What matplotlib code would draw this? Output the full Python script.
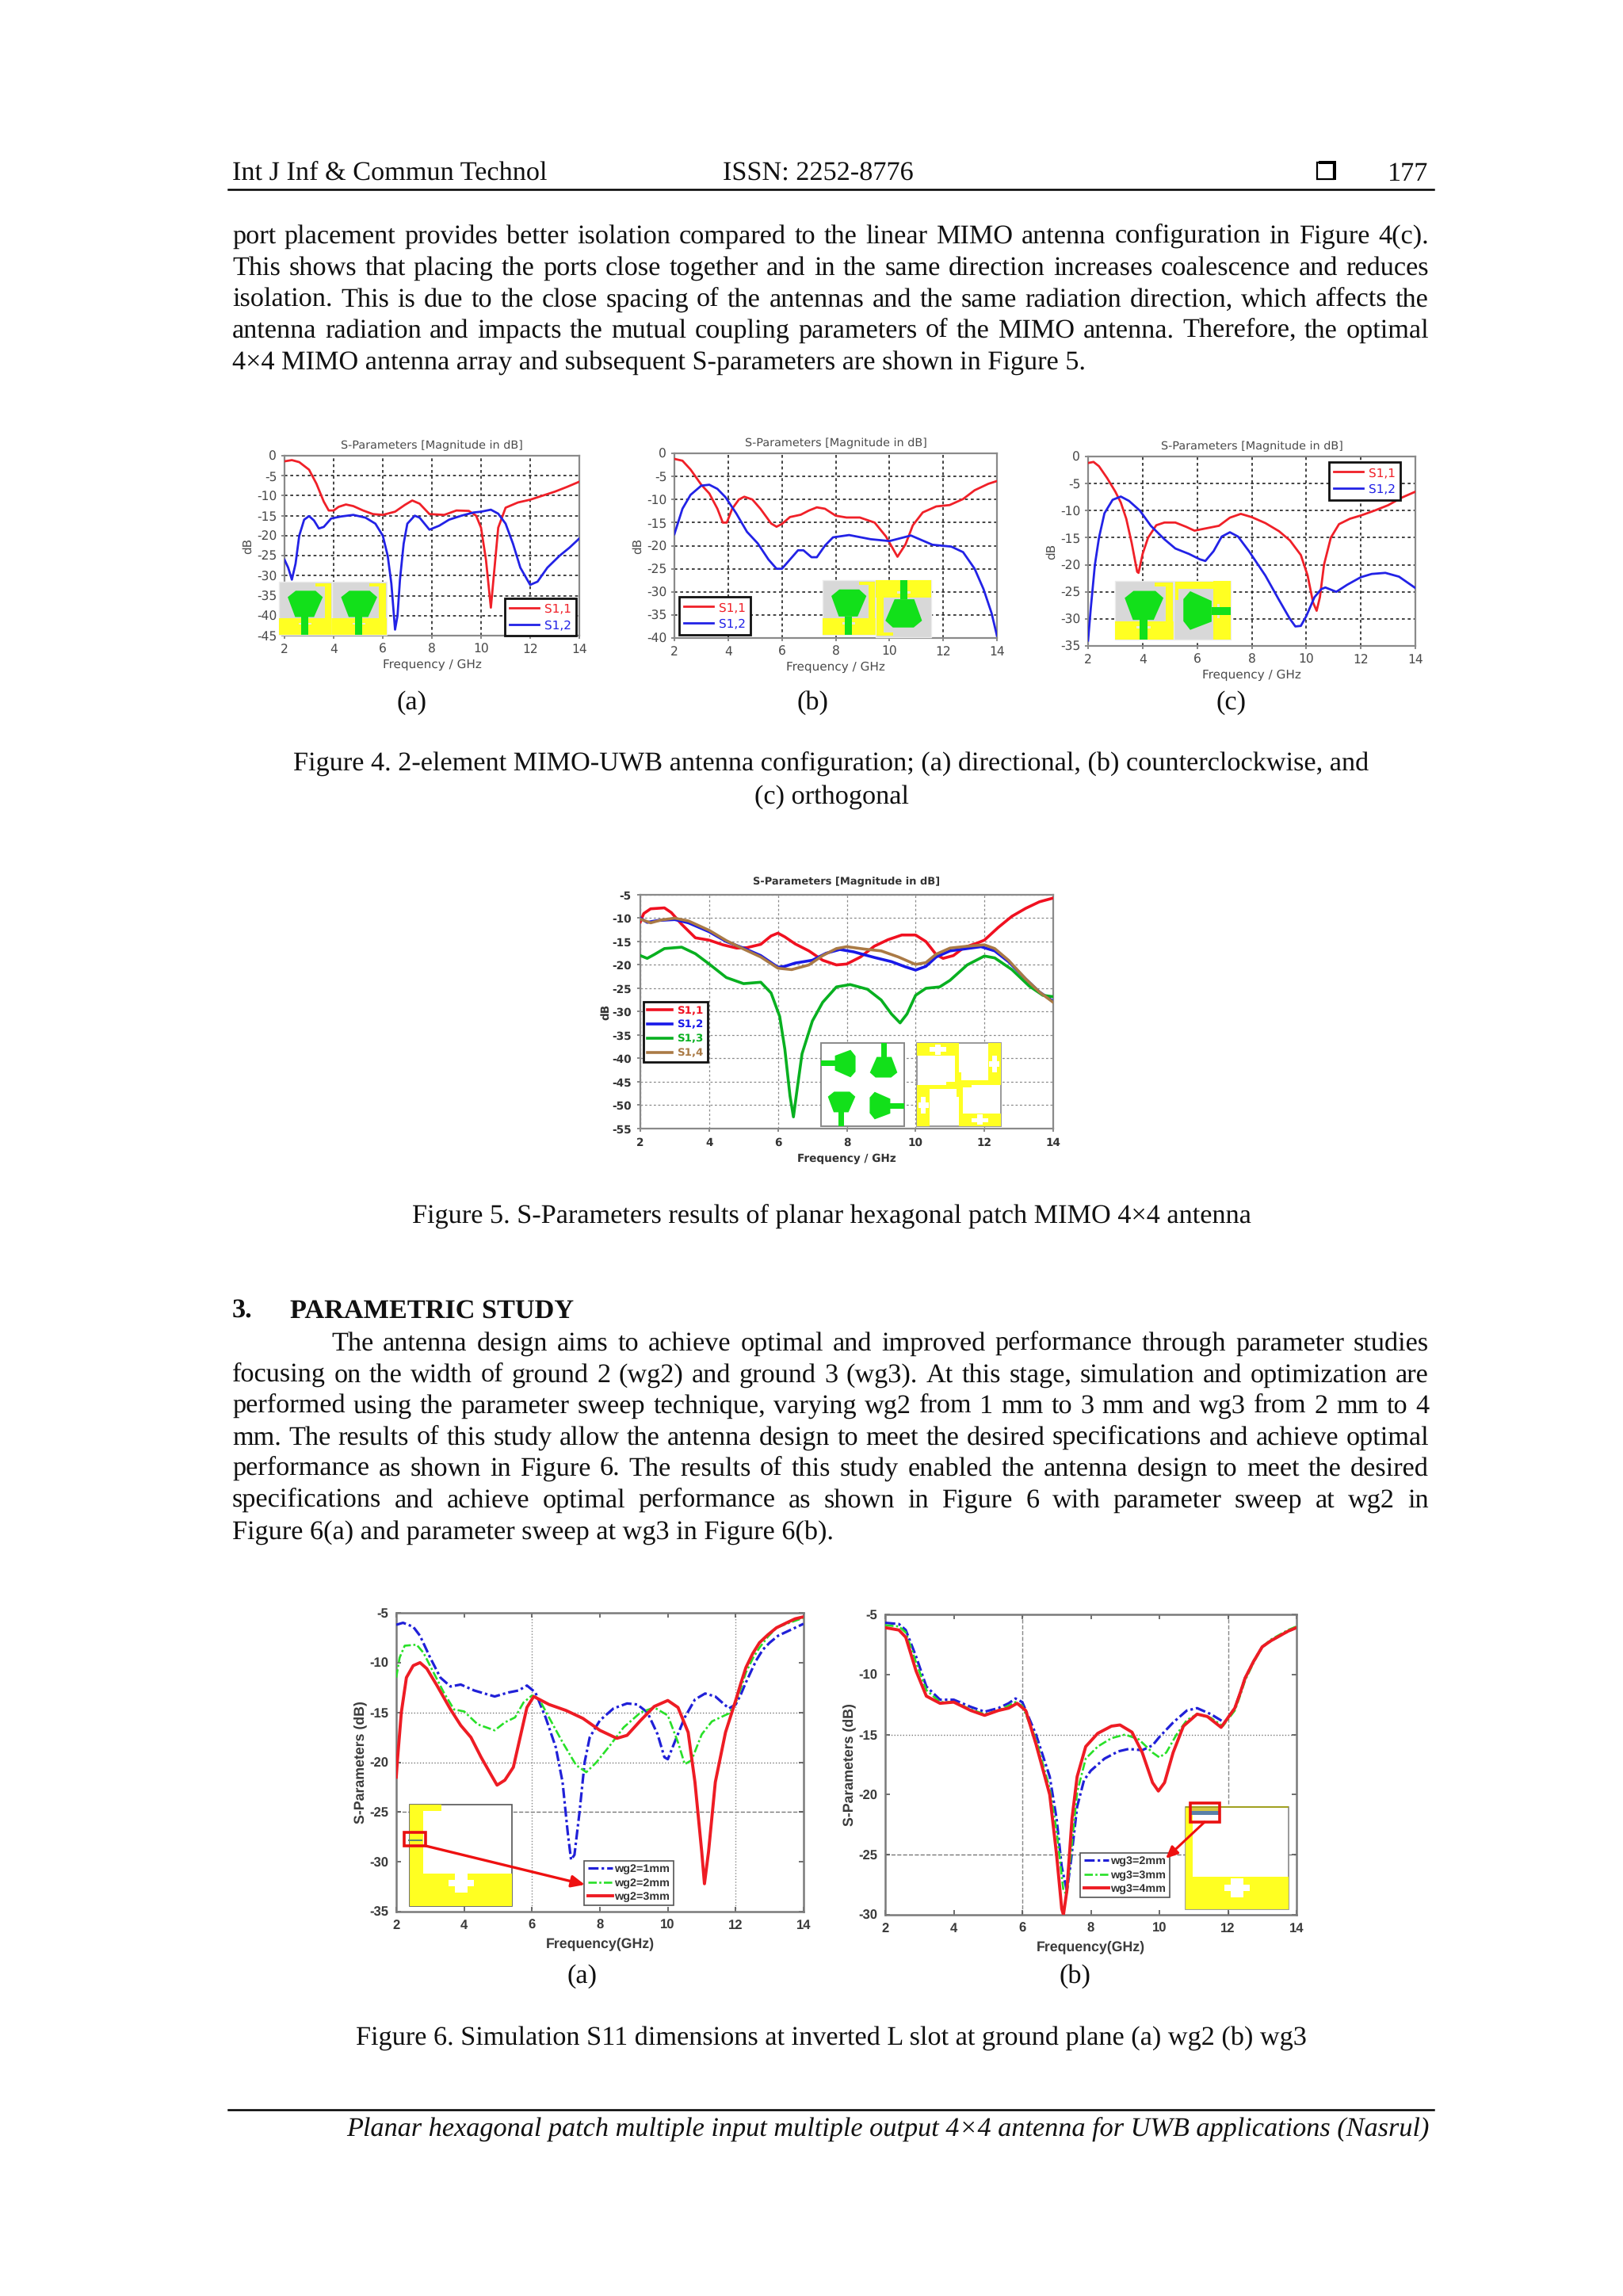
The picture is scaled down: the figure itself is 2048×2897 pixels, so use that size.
import numpy as np
import matplotlib
matplotlib.use("Agg")
import matplotlib.pyplot as plt
from matplotlib.patches import Rectangle, Polygon
from matplotlib.font_manager import FontProperties

plt.rcParams["axes.unicode_minus"] = False
plt.rcParams["text.hinting"] = "none"
W, H = 2048, 2897
# ---------- data ----------
a_s11_f = [2,2.3,2.6,3,3.3,3.6,3.8,4,4.2,4.5,4.8,5.2,5.6,6,6.5,6.9,7.2,7.5,7.9,8.5,9,9.5,9.8,10,10.2,10.4,10.55,10.7,11,11.5,12,12.5,13,13.5,14]
a_s11_db = [-1.4,-1.1,-1.6,-3.5,-7,-11.5,-13.7,-13.7,-12.8,-12.2,-12.6,-13.7,-14.6,-14.8,-14,-12.3,-11.2,-12,-14.6,-14.8,-13.7,-13.8,-15,-18,-26,-38,-28,-18,-13,-11.7,-11,-10,-9,-7.8,-6.5]
a_s12_f = [2,2.15,2.3,2.45,2.6,2.8,3,3.2,3.4,3.6,3.9,4.3,4.8,5.3,5.7,6,6.2,6.35,6.5,6.6,6.7,6.85,7,7.3,7.5,7.9,8.3,8.7,9.2,9.7,10,10.4,10.7,11,11.3,11.6,12,12.3,12.7,13.2,13.6,14]
a_s12_db = [-26,-28,-31,-27,-20,-16,-15.1,-16.2,-18.2,-17.8,-15.7,-15.2,-14.8,-15.5,-17,-20,-25,-32,-43.5,-40,-31,-22,-17,-15,-15.5,-18.5,-17.5,-16,-15,-14.2,-14,-13.5,-14.5,-17,-22,-28,-32.3,-31.5,-28,-25,-23,-20.7]

b_s11_f = [2,2.3,2.6,3,3.3,3.6,3.8,3.95,4.15,4.4,4.6,4.9,5.2,5.6,5.8,6,6.3,6.7,7,7.3,7.6,8,8.4,8.9,9.45,9.87,10.3,10.6,10.87,11.24,11.74,12.24,12.74,13.17,13.68,14]
b_s11_db = [-1.2,-1.6,-3.5,-6.8,-8.7,-12,-15,-15,-12,-10,-9.4,-10,-12,-15.2,-15.9,-15.3,-13.8,-13.3,-12.4,-11.7,-12,-13.5,-13.9,-13.9,-15,-18,-22.4,-19.7,-15.6,-12.8,-11.5,-11.2,-9.9,-8,-6.6,-6]
b_s12_f = [2,2.3,2.6,3,3.3,3.6,3.9,4.3,4.7,5.1,5.5,5.8,6,6.3,6.6,6.8,7.1,7.3,7.6,7.9,8.5,9.3,10,10.8,11.6,12.3,12.74,13.17,13.5,13.8,14]
b_s12_db = [-17.5,-12,-9,-7,-6.8,-7.7,-9.5,-13,-17,-19.5,-23,-25,-25,-23,-21,-21,-22.5,-22.5,-20,-18.2,-17.7,-18.6,-19,-17.8,-19.8,-20.2,-21.4,-25,-29.4,-34.6,-39.5]

c_s11_f = [2,2.2,2.4,2.7,3,3.2,3.4,3.6,3.8,3.85,4,4.2,4.5,4.8,5.2,5.6,5.9,6.4,6.8,7.2,7.6,8,8.5,9,9.4,9.8,10.05,10.25,10.38,10.5,10.65,10.9,11.2,11.6,12,12.5,13,13.5,14]
c_s11_db = [-1.2,-1,-1.8,-4,-6.5,-8.5,-11.5,-16,-21.3,-21.5,-18,-15,-12.7,-12.2,-12.2,-13,-13.7,-13.2,-12.8,-11.3,-10.6,-11.2,-12.3,-13.8,-15.5,-18.2,-22,-27,-28.5,-26,-20,-15,-12.5,-11.5,-10.9,-10,-9,-7.6,-6.5]
c_s12_f = [2,2.1,2.25,2.4,2.6,2.9,3.2,3.5,3.9,4.3,4.8,5.2,5.7,6.1,6.3,6.6,6.9,7.2,7.5,7.9,8.5,9,9.4,9.6,9.8,10,10.3,10.55,10.7,11.1,11.5,12,12.4,12.9,13.4,14]
c_s12_db = [-34,-28,-20,-15,-10.5,-8,-7.4,-8.2,-10,-12.8,-15.3,-17,-18,-19,-19.3,-17.5,-14.8,-14,-14.8,-17.5,-22,-26.5,-30,-31.4,-31.3,-29.5,-26,-24.5,-24.2,-25,-23.7,-22.3,-21.7,-21.5,-22.2,-24.3]

f5_s11_f = [2,2.1,2.3,2.7,2.9,3.2,3.6,4,4.4,4.8,5.1,5.5,5.8,6,6.2,6.5,6.9,7.3,7.7,8,8.4,8.8,9.2,9.6,10,10.3,10.6,10.8,11.1,11.4,11.8,12,12.4,12.8,13.2,13.6,14]
f5_s11_db = [-10.8,-9,-8,-7.8,-8.8,-11.3,-14.2,-14.7,-15.7,-16.4,-16.3,-15.6,-13.8,-13.2,-14,-15.5,-17,-19,-20,-19.8,-18.3,-16,-14.6,-13.6,-13.6,-15,-17.8,-18.6,-18,-16.3,-15.3,-14.7,-12,-9.6,-7.9,-6.5,-5.7]
f5_s12_f = [2,2.2,2.5,3,3.4,4,4.5,5,5.5,6,6.2,6.5,7,7.4,7.8,8.2,8.8,9.3,9.7,10,10.3,10.6,11,11.5,11.9,12.3,12.7,13.2,13.6,14]
f5_s12_db = [-10,-10.9,-10.5,-10.3,-11,-12.9,-15,-16.4,-18,-20.5,-20.3,-19.6,-19,-17.5,-16.7,-17.2,-18.4,-19.3,-20.4,-21.1,-20.3,-18.3,-17,-16.5,-16.1,-17,-19.3,-23,-25.8,-27.8]
f5_s13_f = [2,2.2,2.4,2.7,3.2,3.6,4,4.5,5,5.5,5.8,6.05,6.2,6.35,6.45,6.55,6.7,7,7.3,7.7,8.1,8.6,9,9.3,9.55,9.75,10,10.3,10.7,11,11.5,12,12.3,12.8,13.3,13.7,14]
f5_s13_db = [-18,-18.6,-17.8,-16.5,-16.2,-17.6,-19.8,-22.7,-24,-23.7,-26,-31,-38,-48,-52.5,-47,-39,-32,-28,-24.7,-24.2,-25.2,-27.5,-30.5,-32.4,-30.5,-26.5,-25,-24.7,-23.3,-20,-18.1,-18.5,-21,-24.5,-26.5,-26.8]
f5_s14_f = [2,2.3,2.6,3,3.4,4,4.5,5,5.5,6,6.4,6.9,7.3,7.7,8,8.5,9,9.5,10,10.3,10.6,11,11.5,12,12.3,12.7,13.2,13.6,14]
f5_s14_db = [-10.2,-11,-10.4,-10,-10.6,-12.6,-14.8,-16.6,-18.3,-20.7,-21,-20,-18,-16.5,-16.1,-16.6,-17,-18.3,-19.9,-19.5,-17.7,-16.4,-16,-15.7,-16.5,-19,-23,-25.8,-28]

g2a_f = [2,2.2,2.5,2.7,3,3.3,3.6,3.9,4.3,4.9,5.3,5.6,5.85,6.1,6.4,6.7,6.9,7.05,7.15,7.25,7.4,7.55,7.7,8,8.4,8.8,9.1,9.4,9.7,9.9,10,10.2,10.5,10.8,11.1,11.4,11.8,12,12.15,12.3,12.45,12.6,12.8,13,13.25,13.5,13.75,14]
g2a_db = [-6.2,-6,-6.4,-7.3,-9.5,-11.5,-12.4,-12.2,-12.8,-13.4,-13,-12.8,-12.3,-13,-15.5,-18.5,-22,-27,-29.8,-29.3,-25,-20,-17.5,-15.8,-14.6,-14.1,-14.2,-15,-17.2,-19.5,-19.7,-18,-15.5,-13.7,-13.1,-13.4,-14.6,-14.2,-13.2,-12,-10.9,-9.8,-8.7,-8,-7.3,-6.9,-6.5,-6.1]
g2b_f = [2,2.1,2.25,2.6,2.8,3.1,3.4,3.7,4,4.4,4.9,5.2,5.5,5.75,6,6.2,6.5,6.9,7.3,7.6,7.9,8.3,8.7,9.2,9.6,10,10.3,10.5,10.7,11,11.3,11.8,12,12.15,12.3,12.5,12.7,12.95,13.2,13.5,13.75,14]
g2b_db = [-11.5,-9.5,-8.3,-8.2,-9,-11,-13,-14.7,-14.9,-16.2,-16.8,-16,-15.5,-14,-13.3,-13.6,-15.5,-18,-20.3,-21,-20,-18.3,-16.5,-15,-14.5,-15.3,-18,-20.2,-19.8,-17.2,-15.9,-15.1,-14,-12.6,-11,-9.6,-8.5,-7.4,-6.5,-6.1,-5.8,-5.5]
g2c_f = [2,2.03,2.15,2.3,2.5,2.7,2.9,3.2,3.6,3.9,4.2,4.5,4.8,4.97,5.2,5.45,5.65,5.85,6.05,6.5,7,7.5,8,8.5,8.8,9.2,9.6,10,10.3,10.6,10.8,11,11.08,11.2,11.4,11.7,12,12.15,12.3,12.5,12.7,12.95,13.2,13.5,13.75,14]
g2c_db = [-21.5,-20,-15,-11.5,-10.3,-10,-10.6,-12.3,-14.7,-16.3,-17.5,-19.5,-21.3,-22.3,-21.8,-20.5,-17.5,-14.5,-13.4,-14.2,-14.8,-15.6,-16.8,-17.6,-17.3,-15.8,-14.4,-13.8,-14.5,-17,-22,-29,-32.2,-29,-22,-17,-13.8,-12.1,-10.5,-9.1,-8,-7.2,-6.5,-6,-5.6,-5.4]

g3a_f = [2,2.4,2.6,2.9,3.2,3.6,4,4.5,4.9,5.3,5.6,5.8,6,6.4,6.8,7,7.15,7.3,7.4,7.6,7.8,8,8.4,8.8,9.1,9.5,9.8,10,10.4,10.8,11.1,11.5,11.9,12.2,12.35,12.5,12.75,13,13.25,13.5,13.75,14]
g3a_db = [-5.7,-5.8,-6.3,-8.5,-11,-12.1,-12.1,-12.7,-13.1,-12.8,-12.4,-12,-12.3,-15,-18.5,-22,-26,-28,-26,-21,-18.8,-18,-17,-16.4,-16.2,-16.3,-15.9,-15.2,-14,-13,-12.8,-13.3,-14,-12.8,-11.6,-10.3,-8.9,-7.7,-7.2,-6.8,-6.4,-6.1]
g3b_f = [2,2.4,2.6,2.9,3.2,3.6,4,4.5,4.9,5.3,5.6,5.8,6,6.4,6.8,7,7.2,7.3,7.45,7.6,7.85,8.2,8.6,9,9.4,9.8,10,10.2,10.5,10.8,11.1,11.5,11.85,12.2,12.35,12.5,12.75,13,13.25,13.5,13.75,14]
g3b_db = [-5.9,-6,-6.5,-9,-11.3,-12.3,-12.3,-12.9,-13.3,-13,-12.6,-12.3,-12.6,-15.4,-19.5,-23,-28,-28.3,-24,-19.8,-17,-16,-15.3,-15,-15.4,-16.5,-16.9,-16.5,-15,-13.8,-13.3,-13.6,-14.3,-13,-11.8,-10.5,-9,-7.7,-7.1,-6.7,-6.3,-6]
g3c_f = [2,2.4,2.6,2.9,3.2,3.6,4,4.5,4.9,5.3,5.6,5.85,6.1,6.4,6.8,7,7.15,7.2,7.3,7.45,7.6,7.85,8.2,8.6,8.85,9.2,9.5,9.8,9.97,10.15,10.4,10.7,11.1,11.4,11.8,12.2,12.35,12.5,12.75,13,13.25,13.5,13.75,14]
g3c_db = [-6.1,-6.3,-6.9,-9.7,-11.8,-12.4,-12.3,-13,-13.4,-13,-12.8,-12.4,-13,-15.8,-20,-25,-29.5,-30,-28,-22,-18.5,-16,-14.9,-14.3,-14.2,-14.8,-16.5,-19,-19.7,-19,-16.5,-14.3,-13.3,-13.5,-14.4,-12.8,-11.6,-10.3,-8.9,-7.7,-7.2,-6.8,-6.4,-6.1]

xticks = [2,4,6,8,10,12,14]
TITLE = "S-Parameters [Magnitude in dB]"
FREQ = "Frequency / GHz"

body1 = ["port placement provides better isolation compared to the linear MIMO antenna configuration in Figure 4(c).",
 "This shows that placing the ports close together and in the same direction increases coalescence and reduces",
 "isolation. This is due to the close spacing of the antennas and the same radiation direction, which affects the",
 "antenna radiation and impacts the mutual coupling parameters of the MIMO antenna. Therefore, the optimal"]
body1_last = "4\u00d74 MIMO antenna array and subsequent S-parameters are shown in Figure 5."
body2 = ["The antenna design aims to achieve optimal and improved performance through parameter studies",
 "focusing on the width of ground 2 (wg2) and ground 3 (wg3). At this stage, simulation and optimization are",
 "performed using the parameter sweep technique, varying wg2 from 1 mm to 3 mm and wg3 from 2 mm to 4",
 "mm. The results of this study allow the antenna design to meet the desired specifications and achieve optimal",
 "performance as shown in Figure 6. The results of this study enabled the antenna design to meet the desired",
 "specifications and achieve optimal performance as shown in Figure 6 with parameter sweep at wg2 in"]
body2_last = "Figure 6(a) and parameter sweep at wg3 in Figure 6(b)."

# ---------- page ----------
fig = plt.figure(figsize=(W/100, H/100), dpi=100, facecolor="white")
pg = fig.add_axes([0,0,1,1], zorder=10)
pg.set_xlim(0,W); pg.set_ylim(H,0); pg.axis("off"); pg.patch.set_alpha(0)

SERIF = "Liberation Serif"
FS = 24.7
rend = fig.canvas.get_renderer()

def T(x,y,s,ha="left",**kw):
    kw.setdefault("fontsize",FS); kw.setdefault("family",SERIF); kw.setdefault("color","#111111")
    pg.text(x,y+2,s,ha=ha,va="baseline",**kw)

def justified(x0,x1,y,s):
    fp = FontProperties(family=SERIF,size=FS)
    words = s.split(" ")
    ws = [rend.get_text_width_height_descent(w,fp,False)[0]/1.0 for w in words]
    gap = (x1-x0-sum(ws))/(len(words)-1)
    x = x0
    for w,wd in zip(words,ws):
        T(x,y,w); x += wd+gap

L, R = 293, 1803
T(L,226,"Int J Inf & Commun Technol")
T(912,226,"ISSN: 2252-8776")
T(1802,226,"177",ha="right")
pg.add_patch(Rectangle((1662,205),21,21,fc="white",ec="black",lw=1.6))
pg.add_patch(Rectangle((1682,203),4,24,fc="black",ec="none"))
pg.add_patch(Rectangle((1664,203),22,4,fc="black",ec="none"))
pg.plot([288,1809],[239,239],color="black",lw=1.8)
pg.plot([288,1809],[2662,2662],color="black",lw=1.8)
T(1804,2694,"Planar hexagonal patch multiple input multiple output 4\u00d74 antenna for UWB applications (Nasrul)",ha="right",style="italic")

for i,(s,y) in enumerate(zip(body1,[305,345,384.5,424])):
    justified(L,R,y,s)
T(L,463.5,body1_last)
T(520,893,"(a)",ha="center"); T(1025,893,"(b)",ha="center"); T(1554,893,"(c)",ha="center")
T(1049,971,"Figure 4. 2-element MIMO-UWB antenna configuration; (a) directional, (b) counterclockwise, and",ha="center")
T(1049,1012,"(c) orthogonal",ha="center")
T(1049,1542,"Figure 5. S-Parameters results of planar hexagonal patch MIMO 4\u00d74 antenna",ha="center")
T(L,1661,"3.",weight="bold"); T(366,1661,"PARAMETRIC STUDY",weight="bold")
for i,(s,y) in enumerate(zip(body2,[1702,1742,1781,1821,1860,1900])):
    justified(418 if i==0 else L,R,y,s)
T(L,1940,body2_last)
T(735,2500,"(a)",ha="center"); T(1356,2500,"(b)",ha="center")
T(1049,2578,"Figure 6. Simulation S11 dimensions at inverted L slot at ground plane (a) wg2 (b) wg3",ha="center")

def new_ax(x0,x1,y0,y1):
    return fig.add_axes([x0/W,1-y1/H,(x1-x0)/W,(y1-y0)/H])

# ---------- CST style panels ----------
RED,BLUE = "#f02028","#2222e6"
def cst(rect,ylim,curves,leg_xy,bold=False,lw=2.0,grid="#222222",tick=11.2,tfs=10.4,xfs=11,lfs=11,lp=3,tp=6.5,ylp=3,pad=4,hl=2.4):
    ax = new_ax(*rect)
    for f,d,c,lab in curves:
        ax.plot(f,d,color=c,lw=lw,label=lab,solid_joinstyle="round",zorder=3)
    ax.set_xlim(2,14); ax.set_ylim(*ylim)
    ax.set_xticks(xticks); ax.set_yticks(np.arange(ylim[0],ylim[1]+1,5))
    w = "bold" if bold else "normal"
    tc = "#333333" if bold else "#4a4a4a"
    ax.grid(True,color=grid,ls=(0,(2.2,2.2)),lw=1.2 if not bold else 0.9,zorder=1)
    ax.set_axisbelow(True)
    ax.tick_params(colors="#777777",labelcolor=tc,labelsize=tick,length=3,width=1.2,pad=pad)
    for l in ax.get_xticklabels()+ax.get_yticklabels(): l.set_fontweight(w)
    for s in ax.spines.values():
        s.set_color("#8a8a8a"); s.set_linewidth(1.6)
    ax.set_title(TITLE,fontsize=tfs,color=tc,pad=tp,fontweight=w)
    ax.set_xlabel(FREQ,fontsize=xfs,color=tc,labelpad=lp,fontweight=w)
    ax.set_ylabel("dB",fontsize=xfs,color=tc,labelpad=ylp,fontweight=w)
    leg = ax.legend(loc="center",bbox_to_anchor=(leg_xy[0]/W,1-leg_xy[1]/H),bbox_transform=fig.transFigure,
                    fancybox=False,framealpha=1,edgecolor="#111111",labelcolor="linecolor",
                    handlelength=hl,handletextpad=0.5,borderpad=0.4,labelspacing=0.4,
                    prop={"size":lfs,"weight":w})
    leg.get_frame().set_linewidth(2)
    leg.set_zorder(5)
    return ax

cst((359,731,575,802),(-45,0),[(a_s11_f,a_s11_db,RED,"S1,1"),(a_s12_f,a_s12_db,BLUE,"S1,2")],(682,778.5))
cst((851,1258,572,805),(-40,0),[(b_s11_f,b_s11_db,RED,"S1,1"),(b_s12_f,b_s12_db,BLUE,"S1,2")],(902,777))
cst((1373,1786,576,815),(-35,0),[(c_s11_f,c_s11_db,RED,"S1,1"),(c_s12_f,c_s12_db,BLUE,"S1,2")],(1722,607))
cst((808,1329,1129,1424),(-55,-5),[(f5_s11_f,f5_s11_db,"#f01020","S1,1"),(f5_s12_f,f5_s12_db,"#1818e8","S1,2"),
     (f5_s13_f,f5_s13_db,"#08b020","S1,3"),(f5_s14_f,f5_s14_db,"#aa7a45","S1,4")],(852.5,1302),
    bold=True,lw=2.6,grid="#8a8a8a",tick=9.8,tfs=9.4,xfs=9.8,lfs=9.6,lp=5,tp=9,ylp=1,pad=5,hl=2.3)

# ---------- antenna insets ----------
YEL,GRN = "#ffff22","#12e01a"
def rot(p,k):
    u,v = p
    for _ in range(k%4):
        u,v = v,1-u      # 90 degrees counter-clockwise on the page
    return (u,v)
def poly(box,pts,k,c,z=11):
    x0,y0,w,h = box
    pg.add_patch(Polygon([(x0+w*u,y0+h*v) for u,v in (rot(p,k) for p in pts)],fc=c,ec="none",zorder=z))
def rect(a,b,c,d): return [(a,b),(c,b),(c,d),(a,d)]
HEX = [(.165,.29),(.315,.17),(.69,.17),(.825,.29),(.66,.665),(.305,.665)]
def ant(box,k,yellow=True,gray=True):
    x0,y0,w,h = box
    if gray:
        pg.add_patch(Rectangle((x0,y0),w,h,fc="#d8d8d8",ec="#ececec",lw=1,zorder=11))
    if yellow:
        poly(box,rect(0,.69,1,1),k,YEL)
        poly(box,rect(.86,.03,.98,.69),k,YEL)
        poly(box,rect(.68,.03,.98,.09),k,YEL)
        poly(box,rect(.37,.77,.45,.81),k,"#e8e8d8",12)
        poly(box,rect(.53,.77,.61,.81),k,"#e8e8d8",12)
    poly(box,HEX,k,GRN,12)
    poly(box,rect(.425,.66,.555,1),k,GRN,12)

ant((352,734,67,67),0); ant((419,734,69,67),0)
ant((1038,732,67,69),0); ant((1105,732,70,72),2)
ant((1407,733,74,74),0); ant((1481,733,72,74),1)

# figure 5 insets
pg.add_patch(Rectangle((1036,1316),105,105,fc="white",ec="#888888",lw=1.4,zorder=11))
hw = 52.5
for (bx,by,k) in [(1036,1316,3),(1036+hw,1316,2),(1036,1316+hw,0),(1036+hw,1316+hw,1)]:
    ant((bx,by,hw,hw),k,yellow=False,gray=False)
pg.add_patch(Rectangle((1157,1316),106,105,fc="white",ec="#999999",lw=1.4,zorder=11))
for (bx,by,k) in [(1157,1316,2),(1157+53,1316,1),(1157,1316+52.5,3),(1157+53,1316+52.5,0)]:
    b = (bx,by,53,52.5)
    poly(b,rect(0,.7,1,1),k,YEL)
    poly(b,rect(0,0,.1,.7),k,YEL)
    poly(b,rect(0,0,.3,.06),k,YEL)
    poly(b,rect(.3,.8,.7,.9),k,"white",12)
    poly(b,rect(.43,.72,.57,.96),k,"white",12)

# ---------- MATLAB style panels ----------
def mat(rect_px,ylim,yticks_,curves,dotted,dashed,vstyle,legend_xy):
    ax = new_ax(*rect_px)
    for f,d,c,ls,lw,lab in curves:
        ax.plot(f,d,color=c,ls=ls,lw=lw,label=lab,solid_joinstyle="round",zorder=3)
    ax.set_xlim(2,14); ax.set_ylim(*ylim)
    ax.set_xticks(xticks); ax.set_yticks(yticks_)
    ax.tick_params(direction="in",top=True,right=True,length=4,width=1.2,color="#555555",
                   labelcolor="#3a3a3a",labelsize=12,pad=7)
    for l in ax.get_xticklabels()+ax.get_yticklabels():
        l.set_fontfamily("Liberation Sans"); l.set_fontweight("bold")
    for s in ax.spines.values():
        s.set_color("#7a7a7a"); s.set_linewidth(1.8)
    for v in dotted: ax.axhline(v,color="#777777",ls=":",lw=1,zorder=1)
    for v in dashed: ax.axhline(v,color="#777777",ls="--",lw=1,zorder=1)
    for v in (6,12): ax.axvline(v,color="#888888",ls=vstyle,lw=1,zorder=1)
    ax.set_xlabel("Frequency(GHz)",family="Liberation Sans",weight="bold",fontsize=12.8,color="#3a3a3a",labelpad=5)
    ax.set_ylabel("S-Parameters (dB)",family="Liberation Sans",weight="bold",fontsize=12.8,color="#3a3a3a",labelpad=2)
    leg = ax.legend(loc="center",bbox_to_anchor=(legend_xy[0]/W,1-legend_xy[1]/H),bbox_transform=fig.transFigure,
                    fancybox=False,framealpha=1,edgecolor="#555555",handlelength=2.2,handletextpad=0.15,
                    borderpad=0.3,labelspacing=0.3,prop={"family":"Liberation Sans","weight":"bold","size":10.4})
    leg.get_frame().set_linewidth(1.2)
    for t in leg.get_texts(): t.set_color("#333333")
    return ax

DD = (0,(4,1.2,1,1.2))
mat((500,1014,2035,2412),(-35,-5),[-35,-30,-25,-20,-15,-10,-5],
    [(g2a_f,g2a_db,"#2020d8",DD,2.3,"wg2=1mm"),(g2b_f,g2b_db,"#28e028",DD,1.9,"wg2=2mm"),(g2c_f,g2c_db,"#ee1c24","-",2.8,"wg2=3mm")],
    [-15,-20],[-25],":",(793.5,2376))
mat((1117,1636,2037,2416),(-30,-5),[-30,-25,-20,-15,-10,-5],
    [(g3a_f,g3a_db,"#2020d8",DD,2.3,"wg3=2mm"),(g3b_f,g3b_db,"#28e028",DD,1.9,"wg3=3mm"),(g3c_f,g3c_db,"#ee1c24","-",2.8,"wg3=4mm")],
    [-15],[-25],"--",(1419.5,2366))

def cross(cx,cy,hw,hh,tw,th):
    pg.add_patch(Rectangle((cx-hw,cy-th),2*hw,2*th,fc="white",ec="none",zorder=13))
    pg.add_patch(Rectangle((cx-tw,cy-hh),2*tw,2*hh,fc="white",ec="none",zorder=13))
def arrow(p0,p1,hl,hw,tw):
    pg.annotate("",xy=p1,xytext=p0,zorder=15,
                arrowprops=dict(arrowstyle=f"-|>,head_length={hl},head_width={hw}",color="#ee1010",lw=tw,shrinkA=0,shrinkB=0))

# inset 6(a)
pg.add_patch(Rectangle((517,2277),129,128,fc="white",ec="#555555",lw=1.2,zorder=11))
pg.add_patch(Rectangle((517,2364),129,41,fc=YEL,ec="none",zorder=12))
pg.add_patch(Rectangle((517,2277),17,90,fc=YEL,ec="none",zorder=12))
pg.add_patch(Rectangle((517,2277),40,8,fc=YEL,ec="none",zorder=12))
cross(582,2376,16,12,8,4)
pg.add_patch(Rectangle((515,2321),18,2,fc="#5a8a70",ec="none",zorder=13))
pg.add_patch(Rectangle((510,2312),27,17,fc="none",ec="#e81010",lw=2.6,zorder=14))
arrow((537,2329),(738,2378),1.0,0.45,2.4)

# inset 6(b)
pg.add_patch(Rectangle((1496,2280),130,129,fc="white",ec="#888888",lw=1.2,zorder=11))
pg.add_patch(Rectangle((1496,2368),130,41,fc=YEL,ec="none",zorder=12))
pg.add_patch(Rectangle((1496,2280),9,90,fc=YEL,ec="none",zorder=12))
pg.add_patch(Rectangle((1496,2279),130,2,fc="#a0a020",ec="none",zorder=12))
pg.add_patch(Rectangle((1503,2281),35,4,fc="#d8c840",ec="none",zorder=13))
pg.add_patch(Rectangle((1503,2285),35,5,fc="#5a80a8",ec="none",zorder=13))
cross(1561,2382,16,12,8,4)
pg.add_patch(Rectangle((1502,2275),37,24,fc="none",ec="#e81010",lw=2.6,zorder=14))
arrow((1520,2299),(1471,2345),0.9,0.4,2.2)

fig.savefig("out.png",dpi=100,facecolor="white")
